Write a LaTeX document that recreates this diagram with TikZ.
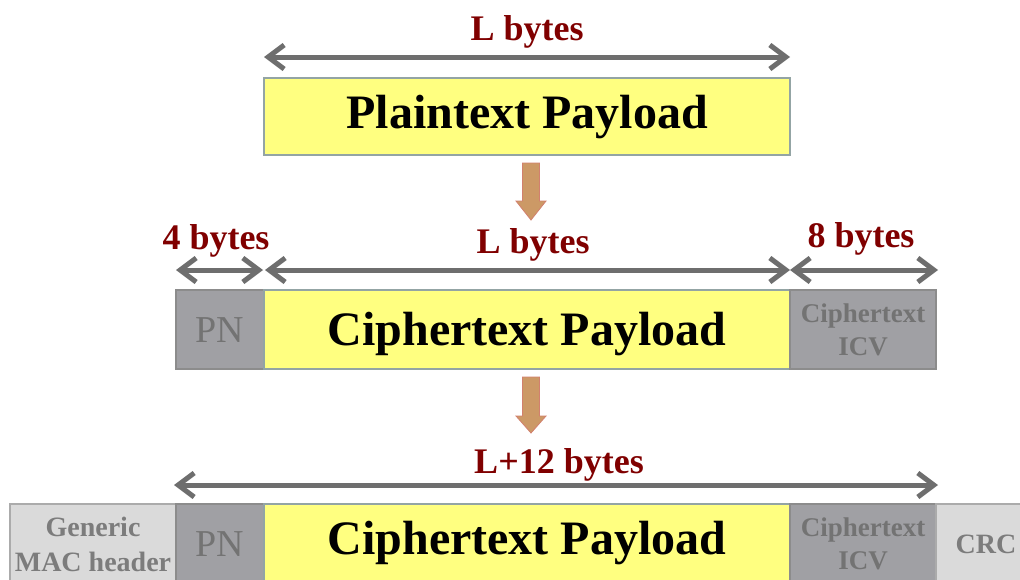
\documentclass[tikz,border=0pt]{standalone}
\usepackage{fontspec}
\setmainfont{Liberation Serif}
\usetikzlibrary{arrows.meta,calc}

\definecolor{payyellow}{HTML}{FFFF80}
\definecolor{payedge}{HTML}{93A4A4}
\definecolor{fielddark}{HTML}{A0A0A4}
\definecolor{fieldlight}{HTML}{DADADA}
\definecolor{edgedark}{HTML}{8C8C8C}
\definecolor{edgelight}{HTML}{ABABAB}
\definecolor{labelred}{HTML}{800000}
\definecolor{dimgray}{HTML}{6E6E6E}
\definecolor{flowfill}{HTML}{CC9966}
\definecolor{flowedge}{HTML}{D2806E}
\definecolor{fieldtext}{HTML}{737373}
\definecolor{lighttext}{HTML}{7C7C7C}

\begin{document}
\begin{tikzpicture}[x=1pt,y=-1pt,
  field/.style={rectangle, anchor=north west, inner sep=0pt, outer sep=0pt, line width=1.5pt},
  payload/.style={field, fill=payyellow, draw=payedge,
    font=\fontsize{48}{52}\selectfont\bfseries, text height=32pt, text depth=0pt},
  pnfield/.style={field, fill=fielddark, draw=edgedark, text=fieldtext,
    font=\fontsize{38}{40}\selectfont, text height=25pt, text depth=0pt},
  icvfield/.style={field, fill=fielddark, draw=edgedark, text=fieldtext, align=center,
    font=\fontsize{27}{33}\selectfont\bfseries},
  lightfield/.style={field, fill=fieldlight, draw=edgelight, text=lighttext, align=center,
    font=\fontsize{28}{35}\selectfont\bfseries},
  span/.style={draw=dimgray, line width=5pt,
    {Straight Barb[length=16pt,width=24pt]}-{Straight Barb[length=16pt,width=24pt]}},
  sizelabel/.style={text=labelred, font=\fontsize{36}{40}\selectfont\bfseries,
    anchor=base, inner sep=0pt},
  flow/.style={fill=flowfill, draw=flowedge, line width=0.8pt, line join=miter}
]
\useasboundingbox (0,0) rectangle (1020,579);
\fill[white] (0,0) rectangle (1020,579);
\clip (0,0) rectangle (1020,579);

% plaintext input
\node[payload, minimum width=526pt, minimum height=77pt, text depth=8pt] (plain) at (264,78) {Plaintext Payload};

% encrypted payload with PN and ICV
\node[pnfield, minimum width=88pt, minimum height=79pt] (pn2) at (176,290) {PN};
\node[payload, minimum width=526pt, minimum height=79pt] (cp2) at (264,290) {Ciphertext Payload};
\node[icvfield, minimum width=146pt, minimum height=79pt] (icv2) at (790,290) {Ciphertext\\ICV};

% complete MAC PDU
\node[lightfield, minimum width=166pt, minimum height=80pt] (mac) at (10,504) {Generic\\MAC header};
\node[pnfield, minimum width=88pt, minimum height=80pt] (pn3) at (176,504) {PN};
\node[payload, minimum width=526pt, minimum height=80pt, text depth=12pt] (cp3) at (264,504) {Ciphertext Payload};
\node[icvfield, minimum width=146pt, minimum height=80pt] (icv3) at (790,504) {Ciphertext\\ICV};
\node[lightfield, minimum width=100pt, minimum height=80pt] (crc) at (936,504) {CRC};

% length spans
\draw[span] ([yshift=21pt]plain.north west) -- ([yshift=21pt]plain.north east);
\draw[span, shorten >=1pt] ([yshift=20pt]pn2.north west) -- ([yshift=20pt]pn2.north east);
\draw[span, shorten <=1pt] ([yshift=20pt]cp2.north west) -- ([yshift=20pt]cp2.north east);
\draw[span] ([yshift=20pt]icv2.north west) -- ([xshift=2pt,yshift=20pt]icv2.north east);
\draw[span] ([xshift=-2pt,yshift=19pt]pn3.north west) -- ([xshift=2pt,yshift=19pt]icv3.north east);

% length labels
\node[sizelabel] (lab-plain) at (527,40) {L bytes};
\node[sizelabel] (lab-pn) at (216,249) {4 bytes};
\node[sizelabel] (lab-cp) at (533,253) {L bytes};
\node[sizelabel] (lab-icv) at (861,247) {8 bytes};
\node[sizelabel] (lab-all) at (559,473) {L+12 bytes};

% processing steps
\coordinate (flow1) at (531,163);
\coordinate (flow2) at (531,377);
\draw[flow] (flow1) ++(-8.5,0) -- ++(17,0) -- ++(0,38) -- ++(6.5,0) -- ++(-15,19)
  -- ++(-15,-19) -- ++(6.5,0) -- cycle;
\draw[flow] (flow2) ++(-8.5,0) -- ++(17,0) -- ++(0,39) -- ++(6.5,0) -- ++(-15,17)
  -- ++(-15,-17) -- ++(6.5,0) -- cycle;
\end{tikzpicture}
\end{document}
